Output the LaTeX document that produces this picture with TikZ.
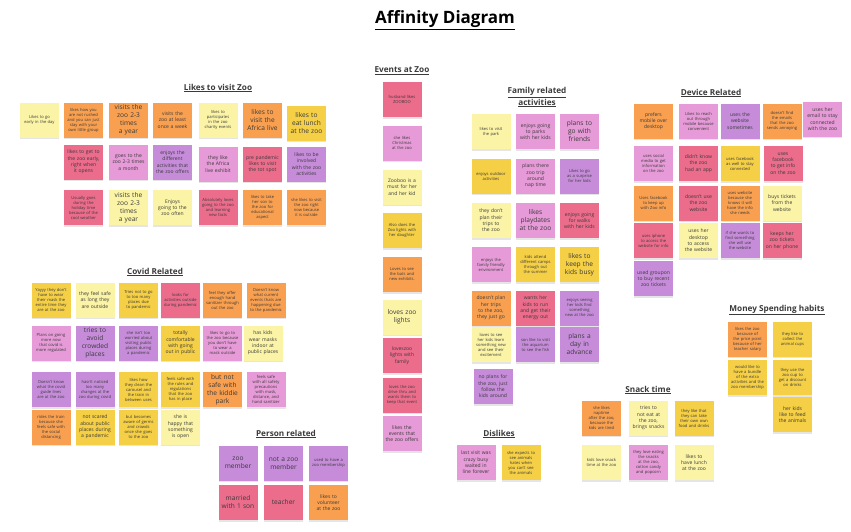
\documentclass[tikz,border=0pt]{standalone}
\usepackage{fontspec}
\setmainfont{Open Sans}
\usetikzlibrary{shadows}

% sticky note colours
\definecolor{nOrange}{HTML}{F9A050}
\definecolor{nGold}{HTML}{F5CF45}
\definecolor{nPale}{HTML}{FBF4A6}
\definecolor{nRed}{HTML}{EC6C8C}
\definecolor{nPink}{HTML}{E69AD7}
\definecolor{nPurple}{HTML}{C68CDA}
\definecolor{ink}{HTML}{3A3A3A}

\tikzset{
  note/.style={minimum width=39pt, minimum height=35pt, text width=33pt,
    inner sep=0pt, align=center, text=ink,
    drop shadow={shadow xshift=0pt, shadow yshift=-1.8pt, opacity=0.2}},
  fs/.style={font=\fontsize{4.1}{5.0}\selectfont},
  fm/.style={font=\fontsize{5.0}{6.3}\selectfont},
  fl/.style={font=\fontsize{6.6}{8.0}\selectfont, text width=33pt},
  heading/.style={font=\bfseries\fontsize{8.2}{10}\selectfont, text=ink, align=center},
}

% name, colour, text size, position, text
\newcommand\stickynote[5]{\node[note, fill=#2, #3] (#1) at (#4) {#5};}

\begin{document}
\hyphenpenalty=10000
\exhyphenpenalty=10000
\begin{tikzpicture}[x=1pt, y=-1pt]
\fill[white] (0,0) rectangle (851,531);
\useasboundingbox (0,0) rectangle (851,531);

\node[font=\bfseries\fontsize{17}{19}\selectfont, text=black] (title) at (445,20) {\underline{Affinity Diagram}};

% ---------- Likes to visit Zoo ----------
\node[heading] (hLikes) at (218,88) {\underline{Likes to visit Zoo}};
\stickynote{l1}{nPale}{fs}{39.5,120}{Likes to go early in the day}
\stickynote{l2}{nOrange}{fs}{83.5,120}{likes how you are not rushed and you can just stay with your own little group}
\stickynote{l3}{nOrange}{fl}{128.5,120}{visits the zoo 2-3 times a year}
\stickynote{l4}{nOrange}{fm}{172.5,120}{visits the zoo at least once a week}
\stickynote{l5}{nPale}{fs}{218,120}{likes to participates in the zoo charity events}
\stickynote{l6}{nOrange}{fl}{262.5,120}{likes to visit the Africa live}
\stickynote{l7}{nGold}{fl}{306.5,123}{likes to eat lunch at the zoo}
\stickynote{l8}{nRed}{fm}{83.5,162}{likes to get to the zoo early, right when it opens}
\stickynote{l9}{nPink}{fm}{128.5,162}{goes to the zoo 2-3 times a month}
\stickynote{l10}{nPurple}{fm}{172.5,162}{enjoys the different activities that the zoo offers}
\stickynote{l11}{nPink}{fm}{218,164}{they like the Africa live exhibit}
\stickynote{l12}{nRed}{fm}{262.5,164}{pre pandemic likes to visit the tot spot}
\stickynote{l13}{nPurple}{fm}{306.5,164}{likes to be involved with the zoo activities}
\stickynote{l14}{nRed}{fs}{83.5,207.5}{Usually goes during the holiday time because of the cool weather}
\stickynote{l15}{nPale}{fl}{128.5,207.5}{visits the zoo 2-3 times a year}
\stickynote{l16}{nPale}{fm}{172.5,207.5}{Enjoys going to the zoo often}
\stickynote{l17}{nRed}{fs}{218,207.5}{Absolutely loves going to the zoo and learning new facts}
\stickynote{l18}{nOrange}{fs}{262.5,207.5}{likes to take her son to the zoo for educational aspect}
\stickynote{l19}{nOrange}{fs}{306.5,207.5}{she likes to visit the zoo right now because it is outside}

% ---------- Covid Related ----------
\node[heading] (hCovid) at (155,272) {\underline{Covid Related}};
\stickynote{c1}{nGold}{fs}{51,300}{Yayyy they don't have to wear their mask the entire time they are at the zoo}
\stickynote{c2}{nPale}{fm}{95,300}{they feel safe as long they are outside}
\stickynote{c3}{nGold}{fs}{138.5,300}{Tries not to go to too many places due to pandemic}
\stickynote{c4}{nRed}{fs}{180.5,300}{looks for activities outside during pandemic}
\stickynote{c5}{nOrange}{fs}{222.5,300}{feel they offer enough hand sanitizer through out the zoo}
\stickynote{c6}{nOrange}{fs}{266,300}{Doesn't know what current events thats are happening due to the pandemic}
\stickynote{c7}{nPink}{fs}{51,343}{Plans on going more now that covid is more regulated}
\stickynote{c8}{nPurple}{fl}{95,343}{tries to avoid crowded places}
\stickynote{c9}{nPurple}{fs}{138.5,343}{she isn't too worried about visiting public places during a pandemic}
\stickynote{c10}{nGold}{fm}{180.5,343}{totally comfortable with going out in public}
\stickynote{c11}{nPink}{fs}{222.5,343}{likes to go to the zoo because you don't have to wear a mask outside}
\stickynote{c12}{nPale}{fm}{263,343}{has kids wear masks indoor at public places}
\stickynote{c13}{nPurple}{fs}{51,389.5}{Doesn't know what the covid guide lines are at the zoo}
\stickynote{c14}{nPurple}{fs}{95,389.5}{hasn't noticed too many changes at the zoo during covid}
\stickynote{c15}{nGold}{fs}{138.5,389.5}{likes how they clean the carousel and the train in between uses}
\stickynote{c16}{nGold}{fs}{180.5,389.5}{feels safe with the rules and regulations that the zoo has in place}
\stickynote{c17}{nOrange}{fl}{222.5,389.5}{but not safe with the kiddie park}
\stickynote{c18}{nPink}{fs}{266,389.5}{feels safe with all safety precautions with mask, distance, and hand sanitizer}
\stickynote{c19}{nOrange}{fs}{51,427}{rides the train because she feels safe with the social distancing}
\stickynote{c20}{nGold}{fm}{95,427}{not scared about public places during a pandemic}
\stickynote{c21}{nGold}{fs}{138.5,427}{but becomes aware of germs and crowds once she goes to the zoo}
\stickynote{c22}{nPale}{fm}{180.5,427}{she is happy that something is open}

% ---------- Person related ----------
\node[heading] (hPerson) at (286,434) {\underline{Person related}};
\stickynote{p1}{nPurple}{fl}{238,463}{zoo member}
\stickynote{p2}{nPurple}{fl}{283.5,463}{not a zoo member}
\stickynote{p3}{nPurple}{fs}{328.5,463}{used to have a zoo membership}
\stickynote{p4}{nRed}{fl}{238,502.5}{married with 1 son}
\stickynote{p5}{nRed}{fl}{283.5,502.5}{teacher}
\stickynote{p6}{nOrange}{fm}{328.5,502.5}{likes to volunteer at the zoo}

% ---------- Events at Zoo ----------
\node[heading] (hEvents) at (402,71) {\underline{Events at Zoo}};
\stickynote{e1}{nRed}{fs}{402,99.5}{husband likes ZOOBOO}
\stickynote{e2}{nPink}{fs}{402,143}{she likes Christmas at the zoo}
\stickynote{e3}{nPale}{fm}{402,187}{Zooboo is a must for her and her kid}
\stickynote{e4}{nGold}{fs}{402,230.5}{Also does the Zoo lights with her daughter}
\stickynote{e5}{nOrange}{fs}{402,274.5}{Loves to see the bats and new exhibits.}
\stickynote{e6}{nPale}{fl}{402,317}{loves zoo lights}
\stickynote{e7}{nRed}{fm}{402,355.5}{loveszoo lights with family}
\stickynote{e8}{nRed}{fs}{402,395}{loves the zoo drive thru and wants them to keep that event}
\stickynote{e9}{nPink}{fm}{402,433.5}{likes the events that the zoo offers}

% ---------- Family related activities ----------
\node[heading] (hFamily) at (537,97.5) {\underline{Family related}\\\underline{activities}};
\stickynote{f1}{nPale}{fs}{491,131.5}{likes to visit the park}
\stickynote{f2}{nPink}{fm}{535.5,131.5}{enjoys going to parks with her kids}
\stickynote{f3}{nPink}{fl}{579.5,131.5}{plans to go with friends}
\stickynote{f4}{nGold}{fs}{491,176}{enjoys outdoor activities}
\stickynote{f5}{nPink}{fm}{535.5,176}{plans there zoo trip around nap time}
\stickynote{f6}{nPurple}{fs}{579.5,176}{Likes to go as a surprise for her kids}
\stickynote{f7}{nPale}{fm}{491,220.5}{they don't plan their trips to the zoo}
\stickynote{f8}{nPink}{fl}{535.5,220.5}{likes playdates at the zoo}
\stickynote{f9}{nRed}{fm}{579.5,220.5}{enjoys going for walks with her kids}
\stickynote{f10}{nPink}{fs}{491,264.5}{enjoys the family friendly environment}
\stickynote{f11}{nGold}{fs}{535.5,264.5}{kids attend different camps through out the summer}
\stickynote{f12}{nGold}{fl}{579.5,264.5}{likes to keep the kids busy}
\stickynote{f13}{nOrange}{fm}{491,308}{doesn't plan her trips to the zoo, they just go}
\stickynote{f14}{nRed}{fm}{535.5,308}{wants her kids to run and get their energy out}
\stickynote{f15}{nPurple}{fs}{579.5,308}{enjoys seeing her kids find something new at the zoo}
\stickynote{f16}{nPale}{fs}{491,344.5}{loves to see her kids learn something new and see their excitement}
\stickynote{f17}{nPurple}{fs}{535.5,344.5}{son like to visit the aquarium to see the fish}
\stickynote{f18}{nPurple}{fl}{579.5,344.5}{plans a day in advance}
\stickynote{f19}{nPurple}{fm}{493,386.5}{no plans for the zoo, just follow the kids around}

% ---------- Device Related ----------
\node[heading] (hDevice) at (711,93) {\underline{Device Related}};
\stickynote{d1}{nOrange}{fm}{653.5,121}{prefers mobile over desktop}
\stickynote{d2}{nPink}{fs}{698.5,121}{Likes to reach out through mobile because convenient}
\stickynote{d3}{nPurple}{fm}{740,121}{uses the website sometimes}
\stickynote{d4}{nOrange}{fs}{782,121}{doesn't find the emails that the zoo sends annoying}
\stickynote{d5}{nPink}{fm}{822.5,119}{uses her email to stay connected with the zoo}
\stickynote{d6}{nPink}{fs}{653.5,163.5}{uses social media to get information on the zoo}
\stickynote{d7}{nRed}{fm}{698.5,163.5}{didn't know the zoo had an app}
\stickynote{d8}{nGold}{fs}{740,163.5}{uses facebook as well to stay connected}
\stickynote{d9}{nRed}{fm}{783,163.5}{uses facebook to get info on the zoo}
\stickynote{d10}{nOrange}{fs}{653.5,203}{Uses facebook to keep up with Zoo info}
\stickynote{d11}{nRed}{fm}{698.5,203}{doesn't use the zoo website}
\stickynote{d12}{nOrange}{fs}{740,203}{uses website because she knows it will have the info she needs}
\stickynote{d13}{nPale}{fm}{782,203}{buys tickets from the website}
\stickynote{d14}{nRed}{fs}{653.5,240.5}{uses iphone to access the website for info}
\stickynote{d15}{nPale}{fm}{698.5,240.5}{uses her desktop to access the website}
\stickynote{d16}{nPurple}{fs}{740,240.5}{if she wants to find something she will use the website}
\stickynote{d17}{nRed}{fm}{782,240.5}{keeps her zoo tickets on her phone}
\stickynote{d18}{nPurple}{fm}{653.5,278.5}{used groupon to buy recent zoo tickets}

% ---------- Money Spending habits ----------
\node[heading] (hMoney) at (777,310) {\underline{Money Spending habits}};
\stickynote{m1}{nOrange}{fs}{747.5,339}{likes the zoo because of the price point because of her teacher salary}
\stickynote{m2}{nGold}{fs}{792.5,339}{they like to collect the animal cups}
\stickynote{m3}{nGold}{fs}{747.5,377.5}{would like to have a bundle of the extra activities and the zoo membership}
\stickynote{m4}{nGold}{fs}{792.5,377.5}{they use the zoo cup to get a discount on drinks}
\stickynote{m5}{nGold}{fm}{792.5,414.5}{her kids like to feed the animals}

% ---------- Snack time ----------
\node[heading] (hSnack) at (648,390) {\underline{Snack time}};
\stickynote{s1}{nOrange}{fs}{601.5,418}{she likes naptime after the zoo, because the kids are tired}
\stickynote{s2}{nPale}{fm}{648.5,418}{tries to not eat at the zoo, brings snacks}
\stickynote{s3}{nGold}{fs}{694,418}{they like that they can take their own own food and drinks}
\stickynote{s4}{nPale}{fs}{601.5,462.5}{kids love snack time at the zoo}
\stickynote{s5}{nPink}{fs}{648.5,462.5}{they love eating the snacks at the zoo, cotton candy and popcorn}
\stickynote{s6}{nPale}{fm}{694,462.5}{likes to have lunch at the zoo}

% ---------- Dislikes ----------
\node[heading] (hDislikes) at (499,434) {\underline{Dislikes}};
\stickynote{x1}{nPink}{fm}{476,462.5}{last visit was crazy busy waited in line forever}
\stickynote{x2}{nGold}{fs}{521,462.5}{she expects to see animals hates when you can't see the animals}
\end{tikzpicture}
\end{document}
